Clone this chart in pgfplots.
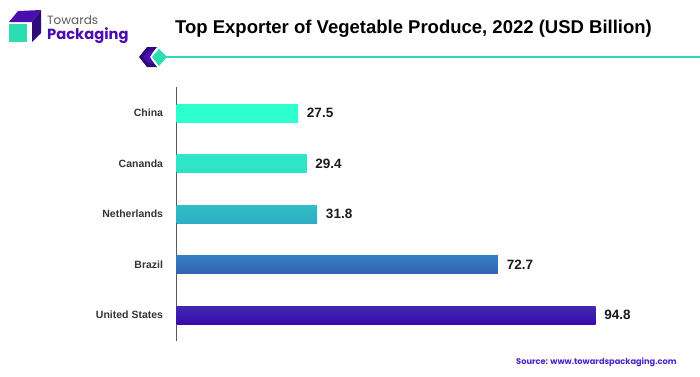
\documentclass[border=0pt]{standalone}
\usepackage{fontspec}
\setmainfont{Liberation Sans}
\newfontfamily\pop{Poppins}
\usepackage{pgfplots}
\pgfplotsset{compat=1.18}
\definecolor{lab}{HTML}{333333}
\definecolor{val}{HTML}{1A1A1A}
\definecolor{ruleteal}{HTML}{2FD9B0}
\definecolor{mint}{HTML}{2BDDB0}
\definecolor{purp}{HTML}{4A0DB0}
\definecolor{dpurp}{HTML}{2E0A78}
\definecolor{src}{HTML}{4B22C8}
\begin{document}
\begin{tikzpicture}[x=1pt,y=1pt]
\useasboundingbox (0,0) rectangle (700,376);
\begin{scope}[yshift=376pt,y=-1pt]
 % logo
 \fill[mint] (9,24) rectangle (27,42);
 \fill[purp] (9,22) -- (18,11) -- (41,10) -- (32,22) -- cycle;
 \fill[dpurp] (32,42) -- (41,33) -- (41,10) -- (32,22) -- cycle;
 \node[anchor=west,inner sep=0,font=\pop\fontsize{12}{13}\selectfont,text=black!65] at (47,20) {Towards};
 \node[anchor=west,inner sep=0,font=\pop\bfseries\fontsize{14.7}{16}\selectfont,text=purp] at (47,36) {Packaging};
 % rule
 \fill[ruleteal] (160,56.2) rectangle (700,57.8);
 \fill[dpurp] (139,57) -- (147,47) -- (157,47) -- (149,57) -- (157,67) -- (147,67) -- cycle;
 \fill[purp] (143,57) -- (148,51) -- (154,50) -- (150,57) -- (154,64) -- (148,63) -- cycle;
 \fill[mint] (152,57) -- (159,49) -- (167,57) -- (159,66) -- cycle;
 % title
 \node[anchor=west,inner sep=0,font=\bfseries\fontsize{18.5}{20}\selectfont,text=black] at (175,29) {Top Exporter of Vegetable Produce, 2022 (USD Billion)};
 % source
 \node[anchor=west,inner sep=0,font=\pop\bfseries\fontsize{8.25}{9}\selectfont,text=src] at (516,362) {Source: www.towardspackaging.com};
\end{scope}
\begin{axis}[
  at={(176.6pt,35pt)},anchor=south west,
  scale only axis,width=500pt,height=254pt,
  xmin=0,xmax=113.12,ymin=-0.515,ymax=4.515,
  y dir=reverse,
  axis x line=none,
  axis y line*=left,
  axis line style={draw=black!65,line width=0.8pt,-},
  ytick={0,1,2,3,4},
  yticklabels={China,Cananda,Netherlands,Brazil,United States},
  yticklabel style={font=\bfseries\fontsize{10.5}{12}\selectfont,text=lab,xshift=-10pt},
  major tick length=0pt,
  clip=false,
  xbar,bar width=18pt,bar shift=0pt,
  nodes near coords,
  point meta=explicit symbolic,
  every node near coord/.append style={font=\bfseries\fontsize{13.5}{15}\selectfont,text=val,xshift=5.3pt,anchor=west},
]
\addplot[draw=none,shade,top color={rgb,255:red,44;green,255;blue,205},bottom color={rgb,255:red,44;green,255;blue,205}] coordinates {(27.5,0) [27.5]};
\addplot[draw=none,shade,top color={rgb,255:red,47;green,232;blue,200},bottom color={rgb,255:red,44;green,226;blue,198}] coordinates {(29.4,1) [29.4]};
\addplot[draw=none,shade,top color={rgb,255:red,46;green,192;blue,196},bottom color={rgb,255:red,48;green,172;blue,196}] coordinates {(31.8,2) [31.8]};
\addplot[draw=none,shade,top color={rgb,255:red,50;green,128;blue,194},bottom color={rgb,255:red,52;green,98;blue,176}] coordinates {(72.7,3) [72.7]};
\addplot[draw=none,shade,top color={rgb,255:red,62;green,42;blue,176},bottom color={rgb,255:red,58;green,10;blue,172}] coordinates {(94.8,4) [94.8]};
\end{axis}
\end{tikzpicture}
\end{document}
